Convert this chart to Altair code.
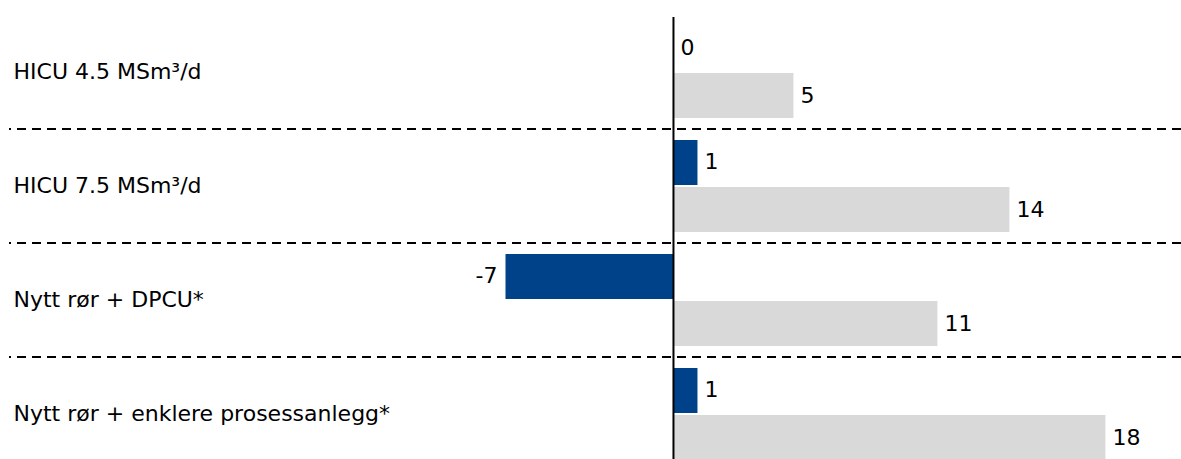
import altair as alt
import pandas as pd

# Categories and the two series per category
kategorier = [
    "HICU 4.5 MSm³/d",
    "HICU 7.5 MSm³/d",
    "Nytt rør + DPCU*",
    "Nytt rør + enklere prosessanlegg*",
]
serie_navn = ["serie1", "serie2"]
serie1 = [0, 1, -7, 1]
serie2 = [5, 14, 11, 18]

farger = ["#00428A", "#D9D9D9"]
FONT = "DejaVu Sans"

rows = []
for k, a, b in zip(kategorier, serie1, serie2):
    rows.append({"kategori": k, "serie": serie_navn[0], "verdi": a})
    rows.append({"kategori": k, "serie": serie_navn[1], "verdi": b})
df = pd.DataFrame(rows)
# value labels use a plain hyphen for negatives
df["etikett"] = df["verdi"].astype(str)

sep_df = pd.DataFrame({"kategori": kategorier[1:]})
zero_df = pd.DataFrame({"verdi": [0]})

x_scale = alt.Scale(domain=[-27.69, 21.15], nice=False, zero=False)
y_scale = alt.Scale(domain=kategorier, range=[-2, 454], paddingInner=0, paddingOuter=0)
yoff_scale = alt.Scale(domain=serie_navn, paddingInner=0.0426, paddingOuter=0.234)

y_axis = alt.Axis(
    title=None,
    domain=False,
    ticks=False,
    grid=False,
    labelAlign="left",
    labelBaseline="middle",
    labelPadding=-4,
    labelFont=FONT,
    labelFontSize=22,
    labelColor="#000000",
    labelLimit=0,
    minExtent=0,
)

bars = alt.Chart(df).mark_bar().encode(
    x=alt.X("verdi:Q", scale=x_scale, axis=None),
    y=alt.Y("kategori:N", scale=y_scale, sort=kategorier, axis=y_axis),
    yOffset=alt.YOffset("serie:N", scale=yoff_scale, sort=serie_navn),
    color=alt.Color("serie:N", scale=alt.Scale(domain=serie_navn, range=farger), legend=None),
)

separators = alt.Chart(sep_df).mark_rule(
    color="#000000", strokeWidth=2, strokeDash=[9, 6]
).encode(
    y=alt.Y("kategori:N", scale=y_scale, sort=kategorier, bandPosition=0),
)

zero_line = alt.Chart(zero_df).mark_rule(color="#000000", strokeWidth=2).encode(
    x=alt.X("verdi:Q", scale=x_scale),
)

text_common = dict(
    x=alt.X("verdi:Q", scale=x_scale),
    y=alt.Y("kategori:N", scale=y_scale, sort=kategorier),
    yOffset=alt.YOffset("serie:N", scale=yoff_scale, sort=serie_navn),
    text=alt.Text("etikett:N"),
)

labels_pos = alt.Chart(df).transform_filter("datum.verdi >= 0").mark_text(
    align="left", baseline="middle", dx=7, font=FONT, fontSize=22, color="#000000"
).encode(**text_common)

labels_neg = alt.Chart(df).transform_filter("datum.verdi < 0").mark_text(
    align="right", baseline="middle", dx=-8, font=FONT, fontSize=22, color="#000000"
).encode(**text_common)

chart = (
    alt.layer(bars, separators, zero_line, labels_pos, labels_neg)
    .properties(
        width=1172,
        height=442,
        autosize=alt.AutoSizeParams(type="none"),
        padding={"left": 9, "top": 17, "right": 0, "bottom": 0},
        background="#FFFFFF",
    )
    .configure_view(stroke=None)
)

chart.save("out.html", embed_options={"renderer": "svg", "actions": False})
